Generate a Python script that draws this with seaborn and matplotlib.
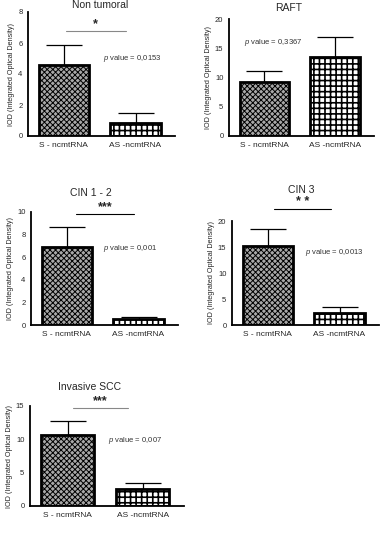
import numpy as np
import pandas as pd
import matplotlib
matplotlib.use('Agg')
import matplotlib.pyplot as plt
import seaborn as sns

sns.set_style('white')
plt.rcParams['font.family'] = ['Liberation Sans', 'DejaVu Sans']
plt.rcParams['mathtext.fontset'] = 'custom'
plt.rcParams['mathtext.it'] = 'Liberation Sans:italic'
plt.rcParams['mathtext.rm'] = 'Liberation Sans'
plt.rcParams['hatch.linewidth'] = 0.7

# data
groups = ['S - ncmtRNA', 'AS -ncmtRNA']
titles = ['Non tumoral', 'RAFT', 'CIN 1 - 2', 'CIN 3', 'Invasive SCC']
s_means = [4.55, 9.2, 6.9, 15.1, 10.7]
s_err = [1.3, 1.9, 1.75, 3.4, 2.0]
as_means = [0.85, 13.5, 0.55, 2.3, 2.55]
as_err = [0.65, 3.5, 0.2, 1.1, 0.85]
p_values = ['0,0153', '0,3367', '0,001', '0,0013', '0,007']
stars = ['*', '', '***', '* *', '***']
y_max = [8, 20, 10, 20, 15]
y_step = [2, 5, 2, 5, 5]

W, H = 382, 537
fig = plt.figure(figsize=(W / 100, H / 100), dpi=100)

# pixel boxes: left, right, top, bottom of each axes
boxes = [(28, 175, 12, 136), (229, 374, 19, 136), (31, 178, 212, 325),
         (232, 379, 221, 325), (30, 184, 406, 506)]
title_pos = [(100, 5), (289, 8), (91, 193), (301, 190), (90, 387)]
# significance line (x0, x1, y) and p-value text (x, y) in data units
sig_lines = [(0.03, 0.86, 6.77, '#888888'), None, (0.13, 0.93, 9.8, 'black'),
             (0.09, 0.88, 22.3, 'black'), (0.07, 0.81, 14.7, '#888888')]
p_pos = [(0.55, 5.0), (-0.29, 15.9), (0.51, 6.8), (0.52, 14.0), (0.54, 9.75)]

for i in range(5):
    l, r, t, b = boxes[i]
    ax = fig.add_axes([l / W, 1 - b / H, (r - l) / W, (b - t) / H])
    df = pd.DataFrame({'group': groups, 'value': [s_means[i], as_means[i]]})
    sns.barplot(data=df, x='group', y='value', hue='group',
                palette=['#a8a8a8', 'white'], width=0.7, errorbar=None,
                edgecolor='black', linewidth=2, legend=False, ax=ax)
    for patch, h, hw in zip(ax.patches, ['xxxxxx', '+++'], [0.7, 1.2]):
        patch.set_hatch(h)
        patch.set_edgecolor('black')
        if hasattr(patch, 'set_hatch_linewidth'):
            patch.set_hatch_linewidth(hw)
    ax.errorbar([0, 1], [s_means[i], as_means[i]],
                yerr=[[0, 0], [s_err[i], as_err[i]]], fmt='none',
                ecolor='black', elinewidth=0.9, capsize=13, capthick=0.9)
    ax.set_ylim(0, y_max[i])
    ax.set_yticks(np.arange(0, y_max[i] + 1, y_step[i]))
    ax.set_xlim(-0.5, 1.55)
    sns.despine(ax=ax)
    for side in ['left', 'bottom']:
        ax.spines[side].set_linewidth(1.3)
        ax.spines[side].set_color('black')
    ax.tick_params(axis='both', direction='out', length=3, width=1,
                   color='black', labelsize=5.5, pad=1)
    ax.tick_params(axis='x', labelsize=6)
    ax.set_xlabel('')
    ax.set_ylabel('IOD (Integrated Optical Density)', fontsize=5.2, labelpad=2)
    fig.text(title_pos[i][0] / W, 1 - title_pos[i][1] / H, titles[i],
             ha='center', va='center', fontsize=7.5)
    if sig_lines[i] is not None:
        x0, x1, y, c = sig_lines[i]
        ax.plot([x0, x1], [y, y], color=c, lw=0.8, clip_on=False)
        ax.annotate(stars[i], ((x0 + x1) / 2, y), xytext=(0, 0.5),
                    textcoords='offset points', ha='center', va='bottom',
                    fontsize=9, fontweight='bold', annotation_clip=False)
    ax.text(p_pos[i][0], p_pos[i][1], r'$\it{p}$ value = ' + p_values[i],
            fontsize=5.5, va='center', ha='left', color='#333333')

fig.savefig('out.png', dpi=100)
